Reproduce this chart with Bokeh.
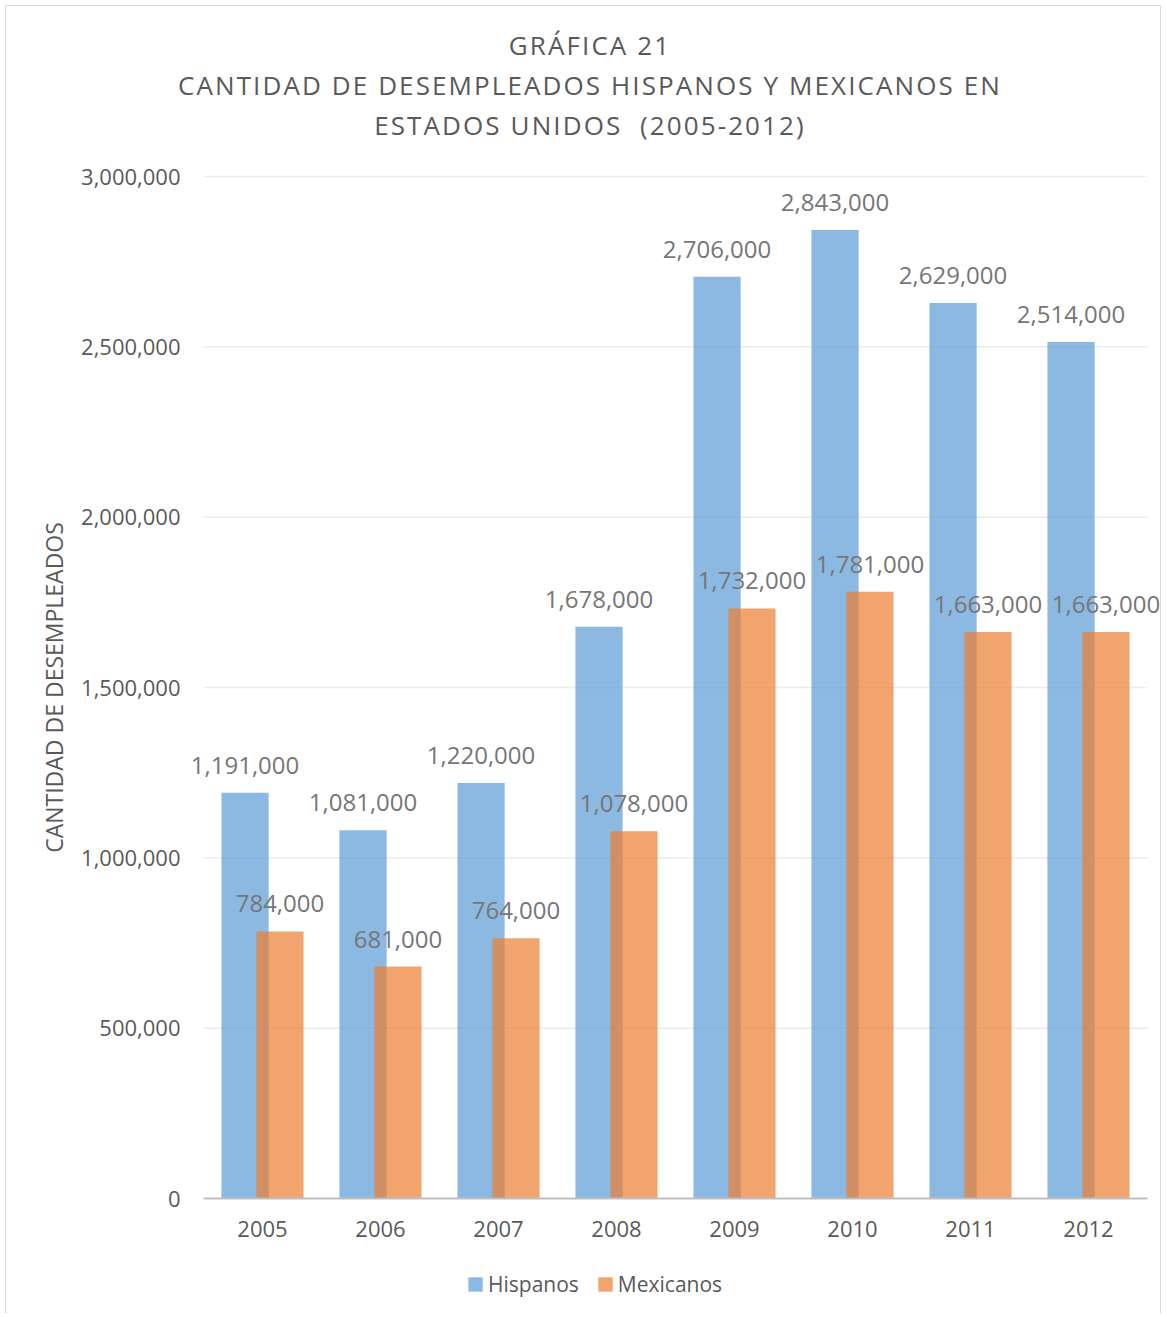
from bokeh.plotting import figure
from bokeh.layouts import column
from bokeh.models import (ColumnDataSource, LabelSet, Legend, LegendItem, NumeralTickFormatter,
                          FixedTicker, Range1d, Div)
from bokeh.core.properties import value
from bokeh.embed import file_html
from bokeh.resources import INLINE

years = ["2005", "2006", "2007", "2008", "2009", "2010", "2011", "2012"]
hispanos = [1191000, 1081000, 1220000, 1678000, 2706000, 2843000, 2629000, 2514000]
mexicanos = [784000, 681000, 764000, 1078000, 1732000, 1781000, 1663000, 1663000]
y_ticks = [0, 500000, 1000000, 1500000, 2000000, 2500000, 3000000]
title_lines = ["GRÁFICA 21", "CANTIDAD DE DESEMPLEADOS HISPANOS Y MEXICANOS EN", "ESTADOS UNIDOS&nbsp; (2005-2012)"]

FONT = "Open Sans"
TXT = "#595959"

# ---- layout constants (pixels) ----
TITLE_H = 141              # title block height
W, H = 1154, 1157          # figure canvas
SLOT = 118.0               # px per category
X0_PX = 197.0              # pixel (in canvas) of left edge of the first category
Y0_PX = 1041.0             # pixel (in canvas) of value 0
PX_PER_UNIT = 1022.0 / 3000000
OFF, BW = 0.148, 0.40      # dodge offset and bar width (in category units)

centers = [i + 0.5 for i in range(len(years))]
src = ColumnDataSource(dict(
    xh=[c - OFF for c in centers], xm=[c + OFF for c in centers],
    hispanos=hispanos, mexicanos=mexicanos,
    hlab=[f"{v:,}" for v in hispanos], mlab=[f"{v:,}" for v in mexicanos],
))

x_range = Range1d(-X0_PX / SLOT, (W - X0_PX) / SLOT)
y_range = Range1d(-(H - Y0_PX) / PX_PER_UNIT, Y0_PX / PX_PER_UNIT)

p = figure(x_range=x_range, y_range=y_range, width=W, height=H,
           output_backend="svg", toolbar_location=None, min_border=0)
p.outline_line_color = None
p.background_fill_color = "white"
p.border_fill_color = "white"
p.xgrid.grid_line_color = None
p.ygrid.grid_line_color = None

# horizontal gridlines over the category span only
n = len(years)
p.segment(x0=[0] * (len(y_ticks) - 1), x1=[n] * (len(y_ticks) - 1), y0=y_ticks[1:], y1=y_ticks[1:],
          line_color="#EBEBEB", line_width=1.5)

hb = p.vbar(x="xh", top="hispanos", width=BW, source=src,
            fill_color="#5B9BD5", fill_alpha=0.7, line_color=None)
mb = p.vbar(x="xm", top="mexicanos", width=BW, source=src,
            fill_color="#ED7D31", fill_alpha=0.7, line_color=None)

for xcol, col, lab in [("xh", "hispanos", "hlab"), ("xm", "mexicanos", "mlab")]:
    p.add_layout(LabelSet(x=xcol, y=col, text=lab, source=src,
                          text_align="center", text_baseline="bottom", y_offset=19,
                          text_font=value(FONT), text_font_size="24px", text_color="#767676"))

# y axis
ya = p.yaxis[0]
ya.fixed_location = 0
ya.bounds = (0, 3000000)
ya.ticker = FixedTicker(ticks=y_ticks)
ya.formatter = NumeralTickFormatter(format="0,0")
ya.axis_line_color = None
ya.major_tick_line_color = None
ya.minor_tick_line_color = None
ya.major_tick_out = 0
ya.major_tick_in = 0
ya.major_label_text_font = FONT
ya.major_label_text_font_size = "22px"
ya.major_label_text_color = TXT
ya.major_label_standoff = 23
ya.axis_label = "CANTIDAD DE DESEMPLEADOS"
ya.axis_label_text_font = FONT
ya.axis_label_text_font_size = "23px"
ya.axis_label_text_font_style = "normal"
ya.axis_label_text_color = TXT
ya.axis_label_standoff = 8

# x axis
xa = p.xaxis[0]
xa.fixed_location = 0
xa.bounds = (0, n)
xa.ticker = FixedTicker(ticks=centers)
xa.major_label_overrides = {c: y for c, y in zip(centers, years)}
xa.axis_line_color = "#BFBFBF"
xa.axis_line_width = 2
xa.major_tick_line_color = None
xa.minor_tick_line_color = None
xa.major_tick_out = 0
xa.major_tick_in = 0
xa.major_label_text_font = FONT
xa.major_label_text_font_size = "22px"
xa.major_label_text_color = TXT
xa.major_label_standoff = 22

legend = Legend(items=[LegendItem(label="Hispanos", renderers=[hb]),
                       LegendItem(label="Mexicanos", renderers=[mb])],
                orientation="horizontal", location=(460, 16),
                label_text_font=FONT, label_text_font_size="21px", label_text_color=TXT,
                glyph_width=18, glyph_height=18, spacing=17, label_standoff=4,
                padding=5, margin=0,
                border_line_color=None, background_fill_alpha=0)
p.add_layout(legend, "center")

title = Div(text=('<div style="font-family:\'Open Sans\',sans-serif;font-size:26px;color:#595959;'
                  'letter-spacing:2.1px;line-height:40px;text-align:center;padding-top:14px;'
                  'padding-left:23px;white-space:nowrap;width:1135px">'
                  + "<br>".join(title_lines) + "</div>"),
            width=W, height=TITLE_H)

layout = column(title, p, spacing=0, width=W + 2, height=TITLE_H + H + 10,
                styles={"border": "1px solid #d9d9d9", "background": "white",
                        "margin-left": "5px", "margin-top": "5px"})

open("out.html", "w").write(file_html(layout, INLINE))
